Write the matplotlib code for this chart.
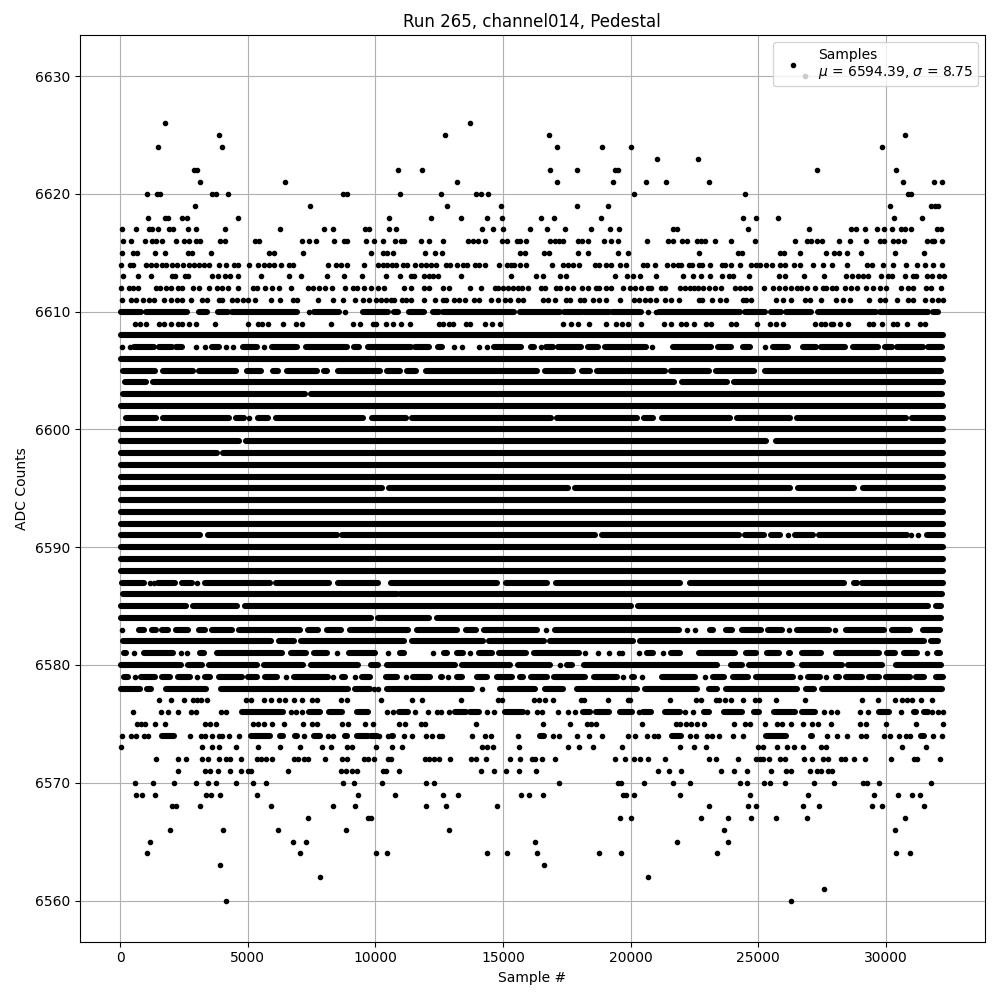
import matplotlib
matplotlib.use("Agg")
import matplotlib.pyplot as plt

# =========================
# Sparse levels: sample numbers
# =========================
dots_6630 = [26840]
dots_6626 = [1780, 13700]
dots_6625 = [3895, 12720, 16800, 30760]
dots_6624 = [1500, 4010, 17110, 18880, 20010, 29850]
dots_6623 = [21030, 22640]
dots_6622 = [2900, 3030, 10875, 11815, 16835, 17890, 19370, 19490, 27300, 30400]
dots_6621 = [3150, 6445, 13190, 17110, 19305, 20600, 21370, 23070, 30670, 31890, 32200]
dots_6620 = [1070, 1440, 1555, 3595, 3750, 4210, 8720, 8875, 10950, 12560, 13930, 14130,
             14400, 20130, 24480, 30870, 31000]
dots_6619 = [2950, 7425, 12810, 14910, 17890, 19110, 30160, 31760, 31920, 32050]
dots_6618 = [1110, 1765, 1880, 2445, 2615, 4640, 10520, 12170, 13340, 14360, 14950, 16480,
             16990, 18830, 24400, 24910, 25770, 30320, 31420]
dots_6617 = [90, 640, 1140, 1270, 1480, 1920, 2080, 2680, 2990, 4130, 6250, 7970, 8325,
             9580, 9760, 10520, 10810, 14170, 14600, 14990, 16050, 16720, 17420, 18440,
             19190, 19540, 21680, 21810, 24600, 26990, 28650, 28820, 29180, 29660, 29940,
             30250, 30600, 30740, 30970, 32000, 32150]
dots_6616 = [105, 445, 980, 1240, 1400, 1660, 2195, 2510, 2705, 2990, 3125, 3910, 4115,
             5300, 5450, 7110, 7385, 7670, 8380, 8780, 8900, 9630, 9960, 10300, 10760,
             11000, 11140, 11780, 12090, 12670, 13620, 13810, 14010, 14290, 14950, 15150,
             15540, 15650, 15900, 16830, 17020, 17190, 17340, 17930, 18080, 18320, 18950,
             19220, 19500, 20640, 21460, 21680, 22000, 22210, 22600, 22770, 22930, 23300,
             23930, 24880, 26440, 26890, 27080, 27320, 27500, 28180, 28600, 29240, 29770,
             29920, 30260, 30480, 30720, 31620, 31790, 31890, 32200]
dots_6615 = [90, 510, 665, 1360, 1780, 2680, 2810, 3555, 5840, 6050, 7150, 9815, 10310,
             10450, 10680, 11930, 12330, 12600, 15650, 15850, 16600, 16800, 17930, 18320,
             19500, 19890, 22680, 24200, 24370, 25840, 26000, 26640, 27660, 27970, 28160,
             28480, 29030, 30360, 31500]
dots_6614 = [40, 380, 510, 1030, 1200, 1400, 1660, 1790, 2050, 2250, 2470, 2700, 2900, 3100,
             3290, 3490, 3860, 4140, 4470, 4640, 5070, 5410, 5650, 5840, 6040, 6290, 6630,
             6780, 8130, 8460, 8650, 8910, 9540, 10090, 10300, 10450, 10640, 10810, 11070,
             11230, 11570, 11790, 11990, 12180, 12380, 12770, 12930, 13190, 13420, 13580,
             13920, 14080, 14310, 14830, 15150, 15320, 15450, 15650, 15900, 16910, 17340,
             17540, 17740, 17960, 18590, 18780, 19050, 19240, 19590, 19830, 20480, 20640,
             20940, 21420, 21660, 21850, 21980, 22300, 22420, 22680, 22810, 23100, 23580,
             23710, 23930, 24270, 24730, 24920, 25080, 25320, 25550, 25870, 26040, 26400,
             26640, 27160, 27540, 27870, 28480, 29260, 29460, 29890, 30280, 30800, 31230,
             31530, 31850, 32200]
dots_6613 = [130, 720, 1230, 2050, 2160, 2550, 2680, 3620, 3820, 4120, 4300, 4610, 5540,
             6610, 7070, 8090, 8760, 9460, 10430, 10950, 11400, 11530, 11920, 12120, 12250,
             12440, 13360, 15310, 16300, 16560, 17240, 17480, 19380, 19860, 20090, 20350,
             21000, 22050, 22440, 22770, 23110, 23580, 23850, 24010, 24640, 25810, 26050,
             26790, 27580, 28450, 28670, 28890, 29110, 29300, 29810, 30090, 30240, 30750,
             31070, 31170, 31620, 31790, 32090, 32270]
dots_6612 = [50, 350, 510, 720, 1400, 1555, 1790, 2010, 2290, 2440, 2840, 3110, 3490, 3780,
             4010, 4210, 4610, 5210, 5380, 5660, 5970, 6230, 6680, 7350, 7540, 7800, 8010,
             8320, 8820, 9110, 9300, 9570, 9830, 10090, 10350, 11140, 11400, 11920, 12120,
             12640, 12880, 13700, 14140, 14670, 14800, 14990, 15190, 15390, 15580, 15750,
             15970, 16500, 16630, 17090, 17220, 17510, 17740, 18100, 18320, 18650, 18780,
             19050, 19240, 19700, 19960, 20160, 20410, 20680, 20810, 21200, 21330, 21920,
             22120, 22310, 22470, 22640, 22830, 23070, 23290, 23550, 24080, 24270, 24470,
             24690, 25230, 25580, 25820, 26040, 26300, 26500, 26690, 26890, 27220, 27530,
             27670, 27870, 28060, 28400, 28650, 28850, 29240, 29500, 29760, 30020, 30610,
             30870, 31070, 31590, 31750, 32140]
dots_6611 = [80, 420, 610, 880, 1140, 1330, 1730, 1990, 2250, 2440, 2770, 3200, 3420, 3880,
             4010, 4400, 4600, 4800, 5000, 5290, 5910, 6250, 6760, 6950, 7740, 8360, 8720,
             9200, 9500, 9760, 10020, 10220, 10420, 10610, 10720, 11040, 11200, 11400, 11900,
             12330, 12640, 12770, 13100, 13290, 13530, 13880, 14050, 14530, 14800, 15060,
             15290, 15580, 15780, 16560, 16750, 17020, 17480, 17630, 18000, 18190, 18520,
             18780, 19050, 19600, 20150, 20320, 20550, 20740, 21000, 21330, 21600, 21890,
             22680, 22810, 23200, 23490, 23750, 24400, 24530, 24730, 25680, 25950, 26300,
             26830, 27040, 27460, 28060, 28320, 28590, 29340, 29770, 29960, 30440, 30870,
             31070, 31530, 31790, 32050, 32250]
dots_6609 = [575, 770, 1010, 1530, 1730, 2010, 2290, 2440, 2705, 2970, 3725, 5030, 5385,
             5555, 5815, 6400, 6890, 7110, 8260, 9110, 9400, 9890, 10020, 10420, 10680,
             11000, 11360, 12480, 12640, 12900, 13060, 13560, 13710, 14300, 14570, 14890,
             17370, 17670, 17940, 18360, 19040, 19440, 19670, 19900, 20420, 21290, 21590,
             21980, 22180, 22480, 22970, 23160, 23950, 24120, 24960, 25450, 25710, 25970,
             27220, 27460, 27600, 27830, 27930, 28190, 28520, 29330, 29500, 29850, 30280,
             30420, 30810, 31320, 31530]
dots_6577 = [1540, 2010, 2510, 2840, 3030, 3160, 3420, 4950, 5130, 5620, 5910, 6210, 6470,
             6800, 7110, 7520, 7700, 8650, 8910, 10220, 11420, 11820, 13340, 14800, 14950,
             16230, 16430, 16650, 16950, 18040, 18160, 19120, 19890, 19980, 21540, 22570,
             22740, 23360, 23450, 23700, 23930, 24400, 24880, 25030, 25690, 26830, 29070,
             29690, 30360, 30640, 30830, 31030, 31380, 31810]
dots_6575 = [650, 810, 970, 1370, 1780, 3320, 3530, 3760, 5200, 5410, 5620, 5970, 6440, 7150,
             7500, 7700, 8680, 8940, 9590, 9890, 10910, 11150, 11790, 11930, 13930, 16560,
             17620, 18300, 18430, 18640, 20440, 21790, 21920, 22180, 22380, 22600, 22890,
             24050, 24470, 24690, 25270, 25720, 25940, 26300, 26770, 27110, 27350, 27850,
             29000, 29240, 30010, 31160, 32240]
dots_6573 = [50, 3230, 3620, 3860, 4560, 5420, 6250, 7030, 7930, 8270, 8910, 9070, 10010,
             10640, 11030, 14180, 14360, 14600, 15620, 17540, 17970, 18520, 19660, 21930,
             22480, 22950, 24990, 25190, 25740, 26130, 26400, 26750, 27460, 27660, 30640,
             31580]
dots_6572 = [1390, 2290, 2600, 3230, 3450, 3860, 4140, 4300, 4720, 5380, 5510, 5700, 5970,
             6800, 6990, 7210, 7370, 8010, 8680, 8910, 9570, 9700, 9930, 10480, 10610, 11950,
             12090, 12310, 12500, 12910, 13750, 13950, 14320, 15270, 15660, 16140, 16240,
             16520, 17020, 19380, 19770, 20130, 20360, 20700, 21340, 23090, 23340, 24210,
             24900, 25060, 25190, 25410, 25870, 26040, 26800, 27110, 27540, 27740, 28260,
             28390, 28760, 29200, 30200, 31100, 31220, 32100]
dots_6571 = [2290, 3320, 3520, 3820, 4290, 4720, 5000, 5120, 6560, 8650, 8870, 9070, 9280,
             10290, 10420, 10910, 14150, 14640, 15110, 15620, 16290, 21070, 21500, 21970,
             23540, 24050, 24560, 25500, 26070, 26300, 27030, 27310, 27460, 27740, 27890]
dots_6570 = [600, 1310, 2130, 2970, 3460, 3750, 4560, 5210, 5700, 8720, 9150, 10250, 11980,
             12290, 17190, 19500, 19620, 20520, 21660, 22310, 24280, 24560, 25210, 25470,
             26050, 27180, 27970, 29110, 29270, 29730, 31770]
dots_6569 = [640, 860, 1350, 3360, 3550, 3900, 5350, 9310, 10760, 12640, 13230, 15700, 16010,
             16560, 19700, 19830, 20130, 21930, 24680, 26950, 29540, 30480, 31030, 31340]
dots_6568 = [2050, 2180, 3150, 5900, 8360, 9190, 11980, 12760, 14760, 23070, 24600, 24910,
             26760, 27380, 29460, 29850, 31500]
dots_6567 = [7380, 9700, 9830, 19580, 20010, 22750, 23810, 24720, 25700, 26910, 30750]
dots_6566 = [1970, 4050, 6170, 8870, 12870, 23660, 30360]
dots_6565 = [1190, 6760, 7270, 16250, 21810, 23810]
dots_6564 = [1070, 7030, 10010, 10440, 14360, 15150, 16330, 18760, 19620, 23380, 30400, 30950]
dots_6563 = [3930, 16600]
dots_6562 = [7820, 20680]
dots_6561 = [27580]
dots_6560 = [4170, 26280]

# =========================
# Rows where points merge: [first sample, last sample] of each unbroken stretch
# =========================
full_row = [[30, 32240]]

runs_6610 = [[30, 810], [1010, 2640], [3100, 3390], [3820, 4210], [4380, 6950], [7610, 8590],
             [9530, 10500], [10750, 10880], [11330, 11920], [12240, 12500], [12640, 15450],
             [15650, 17220], [17380, 18080], [18190, 19150], [19290, 20410], [21130, 24270],
             [24470, 25250], [25510, 25900], [26070, 27080], [27340, 29630], [29770, 31650],
             [31850, 32050]]
dots_6610 = [7410, 8820, 20680, 21000]
runs_6607 = [[550, 1330], [1530, 2030], [2180, 2440], [3590, 3860], [4800, 5360], [5970, 6950],
             [7280, 8890], [9170, 9370], [9700, 11400], [11550, 12120], [12440, 12610],
             [14660, 15710], [16100, 16230], [16690, 16950], [17150, 18060], [18320, 18720],
             [19000, 20610], [21660, 23160], [23420, 23950], [24400, 24690], [25580, 26170],
             [26760, 27250], [27470, 28390], [28720, 29700], [29960, 30220], [30420, 31460],
             [31660, 32210]]
dots_6607 = [65, 380, 2970, 3320, 4170, 4440, 5620, 13100, 13400, 14080, 14360, 16500, 20830,
             25260]
runs_6605 = [[130, 1360], [1700, 2840], [3110, 4560], [4970, 5540], [5980, 6170], [6530, 7700],
             [7970, 8090], [8530, 10180], [10460, 10970], [11240, 11590], [11990, 16350],
             [16660, 17760], [18100, 18420], [18690, 21360], [21600, 23060], [23350, 24850],
             [25260, 32170]]
runs_6604 = [[200, 1030], [1310, 21710], [22000, 23780], [24050, 32240]]
runs_6603 = [[100, 7240], [7490, 32200]]
runs_6601 = [[220, 1420], [1700, 4270], [4540, 4850], [5400, 5780], [6100, 9530], [9870, 11190],
             [11440, 16870], [17100, 20240], [20530, 20880], [21220, 23900], [24180, 26260],
             [26530, 30770], [31010, 32240]]
dots_6601 = [5070]
runs_6599 = [[30, 4670], [4930, 25320], [25680, 32240]]
runs_6598 = [[30, 3780], [4030, 32240]]
runs_6595 = [[30, 10250], [10520, 17530], [17840, 26260], [26570, 28740], [29110, 32240]]
runs_6591 = [[30, 3150], [3440, 8480], [8690, 18590], [18890, 24230], [24480, 25240],
             [25490, 25870], [26430, 27150], [27380, 30810], [31600, 32240]]
dots_6591 = [26180, 31000, 31260]
runs_6587 = [[60, 930], [1500, 2140], [2420, 2800], [3330, 5870], [6120, 8200], [8540, 10120],
             [10630, 14750], [15100, 16720], [17080, 21940], [22310, 28350], [28750, 28870],
             [29080, 32240]]
dots_6587 = [1170, 1320, 3000]
runs_6586 = [[100, 10830], [10970, 32200]]
runs_6585 = [[30, 2600], [2850, 4600], [4900, 20020], [20300, 31650], [31960, 32170]]
runs_6584 = [[30, 9850], [10100, 12120], [12420, 32170]]
runs_6583 = [[745, 930], [1270, 1400], [1630, 1880], [2180, 2670], [3100, 3310], [3600, 4370],
             [4670, 7040], [7380, 7760], [8100, 8640], [9020, 11290], [11630, 13190],
             [13550, 13930], [14250, 16320], [17030, 21880], [23110, 23210], [23720, 23970],
             [24380, 25110], [25400, 25930], [26530, 27760], [28430, 29920], [30230, 30960],
             [31460, 32110]]
dots_6583 = [70, 16690, 22190, 22510, 26210, 28000]
runs_6582 = [[100, 5930], [6210, 6820], [7080, 11140], [11440, 14210], [14470, 16590],
             [16860, 20090], [20350, 31480], [31760, 32040]]
runs_6581 = [[170, 250], [920, 2080], [3130, 3290], [3790, 6330], [6690, 7300], [7610, 8090],
             [8960, 9980], [10980, 11140], [12680, 12800], [13200, 13420], [14050, 14560],
             [14860, 15900], [16210, 17960], [20650, 20870], [21600, 21920], [22680, 24100],
             [24510, 24920], [25330, 25810], [26200, 26260], [26700, 27460], [28060, 29720],
             [30060, 30370], [30710, 31200], [32000, 32110]]
dots_6581 = [560, 2400, 2620, 8480, 10480, 12250, 13720, 18220, 18740, 19150, 19540, 19670,
             20320, 21250, 31620]
runs_6580 = [[30, 2400], [2660, 3230], [3490, 5350], [5630, 7150], [7480, 9310], [9840, 10120],
             [10460, 13120], [13400, 15280], [15590, 16850], [17510, 17700], [18170, 23380],
             [23940, 24360], [24640, 26320], [26730, 28280], [28530, 29850], [30410, 32140]]
dots_6580 = [17250]
runs_6579 = [[160, 310], [820, 1360], [1630, 1950], [2260, 2730], [3330, 3540], [3860, 4760],
             [5010, 5370], [5680, 6160], [6810, 8150], [8690, 8800], [9480, 9810], [10420, 10860],
             [11460, 12140], [12590, 12600], [13200, 13380], [13980, 14360], [14770, 15340],
             [15680, 15800], [16080, 16720], [17000, 18220], [18560, 19460], [20060, 20150],
             [21240, 22530], [23220, 23640], [24020, 24580], [24900, 26360], [26950, 27410],
             [28030, 28150], [28450, 29070], [29320, 29720], [30000, 30940], [31170, 31490],
             [31960, 32240]]
dots_6579 = [570, 3000, 6500, 8330, 9210, 11200, 12840, 19720, 20440, 22900, 26620, 27670]
runs_6578 = [[40, 770], [1050, 1230], [1790, 3360], [3960, 8940], [9220, 9790], [10460, 13780],
             [14900, 16260], [16660, 17370], [17900, 20250], [20580, 22600], [23070, 23380],
             [23720, 26520], [26880, 27200], [27510, 32200]]
dots_6578 = [9960, 10090, 14170]
runs_6576 = [[4770, 6390], [7400, 7830], [8170, 8680], [9280, 9720], [10940, 11270],
             [13140, 13560], [13700, 14080], [15060, 15770], [18130, 18390], [18650, 19170],
             [19580, 20060], [20500, 20810], [21340, 21940], [22870, 23090], [23660, 24360],
             [24830, 25020], [25620, 26450], [26730, 27240], [29730, 30140], [31100, 31160],
             [31500, 31650]]
dots_6576 = [510, 1620, 1860, 2290, 2770, 2990, 3970, 4140, 6690, 6910, 7120, 10440, 10680,
             11540, 12050, 12400, 12590, 12890, 14360, 14660, 15930, 16320, 16530, 17150,
             17540, 17810, 20340, 22150, 22440, 27560, 27860, 28090, 29000, 29300, 30610,
             31810, 32050, 32220]
runs_6574 = [[1660, 2110], [5130, 5870], [6270, 6390], [6840, 6940], [7580, 7830], [8820, 8890],
             [9280, 9720], [9830, 10050], [10640, 10700], [16470, 16590], [21630, 21970],
             [25290, 26100], [27050, 27110], [31370, 31510]]
dots_6574 = [90, 420, 610, 940, 1110, 2760, 3170, 3340, 3620, 3880, 4010, 4270, 4670, 7200,
             8130, 8350, 10160, 10500, 11110, 11420, 11990, 12210, 12510, 12610, 13770, 14310,
             14530, 15580, 16950, 17210, 17890, 18360, 18870, 19890, 20180, 20640, 20900,
             21070, 22310, 22570, 23000, 23200, 23460, 24010, 24400, 27700, 28090, 28460,
             29010, 29240, 29940, 30150, 30520, 30770, 30940, 31850, 32180]

# =========================
# Rows collected for drawing
# =========================
dot_rows = {
    6630: dots_6630, 6626: dots_6626, 6625: dots_6625, 6624: dots_6624, 6623: dots_6623,
    6622: dots_6622, 6621: dots_6621, 6620: dots_6620, 6619: dots_6619, 6618: dots_6618,
    6617: dots_6617, 6616: dots_6616, 6615: dots_6615, 6614: dots_6614, 6613: dots_6613,
    6612: dots_6612, 6611: dots_6611, 6610: dots_6610, 6609: dots_6609, 6607: dots_6607,
    6601: dots_6601, 6591: dots_6591, 6587: dots_6587, 6583: dots_6583, 6581: dots_6581,
    6580: dots_6580, 6579: dots_6579, 6578: dots_6578, 6577: dots_6577, 6576: dots_6576,
    6575: dots_6575, 6574: dots_6574, 6573: dots_6573, 6572: dots_6572, 6571: dots_6571,
    6570: dots_6570, 6569: dots_6569, 6568: dots_6568, 6567: dots_6567, 6566: dots_6566,
    6565: dots_6565, 6564: dots_6564, 6563: dots_6563, 6562: dots_6562, 6561: dots_6561,
    6560: dots_6560,
}

run_rows = {
    6610: runs_6610, 6608: full_row, 6607: runs_6607, 6606: full_row, 6605: runs_6605,
    6604: runs_6604, 6603: runs_6603, 6602: full_row, 6601: runs_6601, 6600: full_row,
    6599: runs_6599, 6598: runs_6598, 6597: full_row, 6596: full_row, 6595: runs_6595,
    6594: full_row, 6593: full_row, 6592: full_row, 6591: runs_6591, 6590: full_row,
    6589: full_row, 6588: full_row, 6587: runs_6587, 6586: runs_6586, 6585: runs_6585,
    6584: runs_6584, 6583: runs_6583, 6582: runs_6582, 6581: runs_6581, 6580: runs_6580,
    6579: runs_6579, 6578: runs_6578, 6576: runs_6576, 6574: runs_6574,
}

# =========================
# Plot
# =========================
fig, ax = plt.subplots(figsize=(10, 10))

xs = []
ys = []
for level, samples in dot_rows.items():
    xs += samples
    ys += [level] * len(samples)

ax.plot(xs, ys, "k.", label="Samples\n$\\mu$ = 6594.39, $\\sigma$ = 8.75")

for level, runs in run_rows.items():
    starts = [r[0] for r in runs]
    stops = [r[1] for r in runs]
    ax.hlines([level] * len(runs), starts, stops, colors="k", linewidth=4.4,
              capstyle="round", zorder=2)

ax.set_title("Run 265, channel014, Pedestal")
ax.set_xlabel("Sample #")
ax.set_ylabel("ADC Counts")
ax.legend(loc="upper right")
ax.grid(True)

fig.tight_layout()
fig.subplots_adjust(top=0.965)
fig.savefig("out.png", dpi=100)
